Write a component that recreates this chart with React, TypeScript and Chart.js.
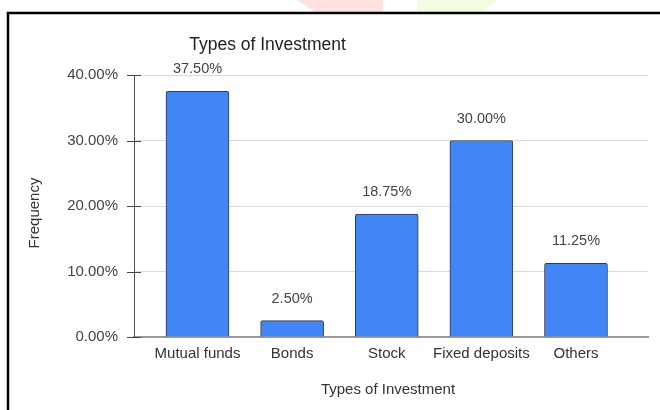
import React, { useEffect, useRef } from "react";
import { Chart, registerables } from "chart.js";

Chart.register(...registerables);

const categories = ["Mutual funds", "Bonds", "Stock", "Fixed deposits", "Others"];
const frequency = [0.375, 0.025, 0.1875, 0.3, 0.1125];
const yTicks = [0, 0.1, 0.2, 0.3, 0.4];
const chartTitle = "Types of Investment";
const xTitle = "Types of Investment";
const yTitle = "Frequency";

const FONT = "'Liberation Sans', Arial, sans-serif";

const pct = (v: number) => (v * 100).toFixed(2) + "%";

const decorPlugin = {
  id: "decor",
  beforeDraw(chart: any) {
    const ctx = chart.ctx;
    ctx.save();
    // faint watermark shapes at the top
    ctx.fillStyle = "#ffe1e1";
    ctx.beginPath();
    ctx.moveTo(297, 0);
    ctx.lineTo(383, 0);
    ctx.lineTo(383, 12);
    ctx.lineTo(315, 12);
    ctx.closePath();
    ctx.fill();
    ctx.fillStyle = "#f1fce3";
    ctx.beginPath();
    ctx.moveTo(417, 0);
    ctx.lineTo(497, 0);
    ctx.lineTo(483, 12);
    ctx.lineTo(417, 12);
    ctx.closePath();
    ctx.fill();
    // frame
    ctx.strokeStyle = "#000";
    ctx.lineWidth = 2.5;
    ctx.beginPath();
    ctx.moveTo(8, 412);
    ctx.lineTo(8, 13);
    ctx.lineTo(662, 13);
    ctx.stroke();
    ctx.restore();
  },
  afterDraw(chart: any) {
    const ctx = chart.ctx;
    const area = chart.chartArea;
    const ys = chart.scales.y;
    ctx.save();
    // y tick marks crossing the axis
    ctx.strokeStyle = "#444";
    ctx.lineWidth = 1;
    yTicks.forEach((t) => {
      const py = Math.round(ys.getPixelForValue(t)) + 0.5;
      ctx.beginPath();
      ctx.moveTo(area.left - 7, py);
      ctx.lineTo(area.left + 7, py);
      ctx.stroke();
    });
    // title
    ctx.fillStyle = "#222";
    ctx.textAlign = "center";
    ctx.textBaseline = "middle";
    ctx.font = `17.5px ${FONT}`;
    ctx.fillText(chartTitle, 267.5, 45);
    // axis titles
    ctx.font = `15px ${FONT}`;
    ctx.fillStyle = "#333";
    ctx.fillText(xTitle, (area.left + area.right) / 2 - 3, 390);
    ctx.save();
    ctx.translate(35, (area.top + area.bottom) / 2 + 7);
    ctx.rotate(-Math.PI / 2);
    ctx.fillText(yTitle, 0, 0);
    ctx.restore();
    // data labels
    ctx.font = `14.5px ${FONT}`;
    ctx.fillStyle = "#444";
    const meta = chart.getDatasetMeta(0);
    meta.data.forEach((bar: any, i: number) => {
      ctx.fillText(pct(frequency[i]), bar.x, bar.y - 22);
    });
    ctx.restore();
  },
};

export default function App() {
  const ref = useRef<HTMLCanvasElement | null>(null);
  useEffect(() => {
    if (!ref.current) return;
    const chart = new Chart(ref.current, {
      type: "bar",
      data: {
        datasets: [
          {
            data: frequency.map((v, i) => ({ x: i, y: v })),
            backgroundColor: "#4285F4",
            borderColor: "#2f3b4d",
            borderWidth: 1,
            borderRadius: 2,
            borderSkipped: "bottom",
            barThickness: 63,
          },
        ],
      },
      options: {
        animation: false,
        responsive: false,
        layout: { padding: { top: 75, right: 12, left: 0, bottom: 0 } },
        plugins: {
          legend: { display: false },
          title: { display: false },
          tooltip: { enabled: false },
        },
        scales: {
          x: {
            type: "linear",
            offset: false,
            min: -0.671,
            max: 4.761,
            afterFit: (s: any) => {
              s.height = 73;
            },
            afterBuildTicks: (s: any) => {
              s.ticks = categories.map((_, i) => ({ value: i }));
            },
            ticks: {
              autoSkip: false,
              maxRotation: 0,
              padding: 8,
              color: "#333",
              font: { family: FONT, size: 15 },
              callback: (v: any) => categories[Math.round(Number(v))] ?? "",
            },
            grid: { display: false, drawTicks: false, offset: false },
            border: { display: true, color: "#999", width: 2 },
          },
          y: {
            min: 0,
            max: 0.4,
            afterFit: (s: any) => {
              s.width = 134;
            },
            afterBuildTicks: (s: any) => {
              s.ticks = yTicks.map((v) => ({ value: v }));
            },
            ticks: {
              padding: 16,
              color: "#444",
              font: { family: FONT, size: 15 },
              callback: (v: any) => pct(Number(v)),
            },
            grid: { color: "#dadada", lineWidth: 1, drawTicks: false },
            border: { display: true, color: "#555", width: 1 },
          },
        },
      },
      plugins: [decorPlugin],
    });
    return () => chart.destroy();
  }, []);
  return (
    <div style={{ position: "absolute", left: 0, top: 0, width: 660, height: 410, background: "#fff" }}>
      <canvas ref={ref} width={660} height={410} style={{ width: 660, height: 410, display: "block" }} />
    </div>
  );
}
